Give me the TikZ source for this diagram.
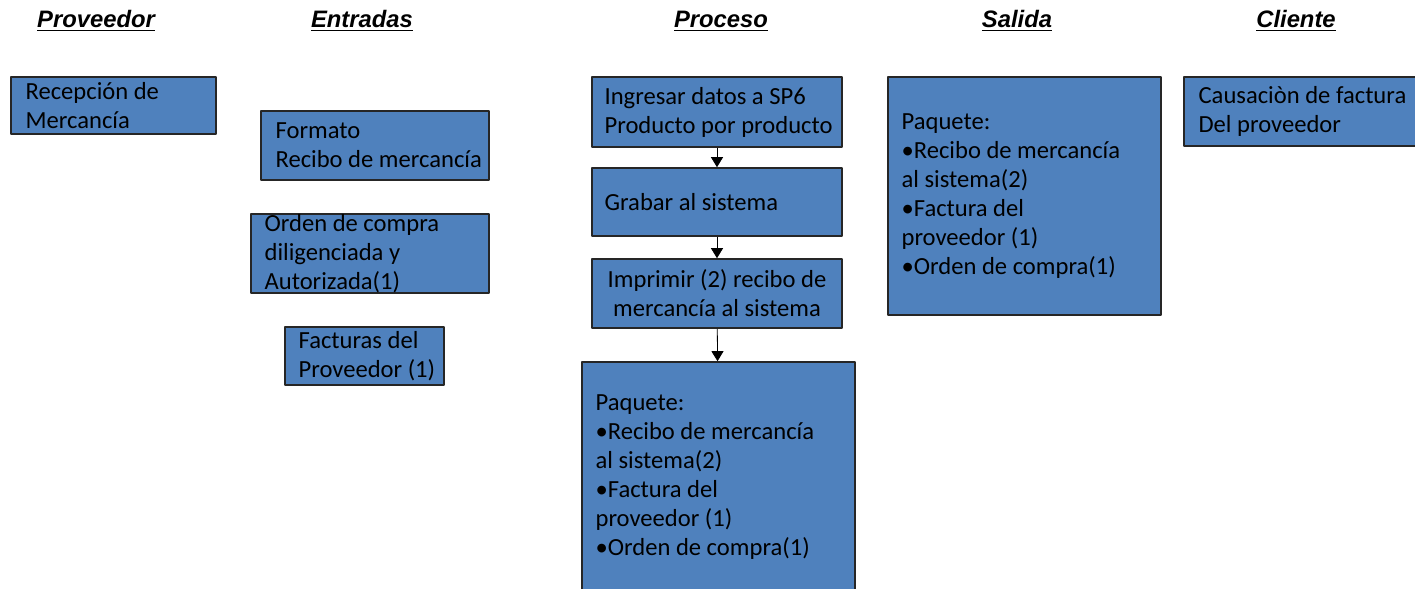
\documentclass[tikz,border=0pt]{standalone}
\usepackage{fontspec}
\setmainfont{Carlito}
\newfontfamily\arial{Liberation Sans}
\usetikzlibrary{arrows.meta}
\definecolor{azul}{RGB}{79,129,189}
\tikzset{
  caja/.style={draw=black!85, line width=0.8pt, fill=azul, inner sep=0pt},
  txt/.style={inner sep=0pt, align=left, anchor=west, font=\fontsize{12.3}{14.5}\selectfont},
  titulo/.style={inner sep=0pt, font=\arial\bfseries\itshape\fontsize{11.9}{13}\selectfont}
}
\begin{document}
\begin{tikzpicture}[x=0.5pt, y=-0.5pt, line join=round, >={Triangle[length=5pt,width=6pt]}]
\useasboundingbox (0,0) rectangle (1415,589);
% titulos
\node[titulo] (tprov) at (96,21) {\underline{Proveedor}};
\node[titulo] (tent) at (362,21) {\underline{Entradas}};
\node[titulo] (tproc) at (721,21) {\underline{Proceso}};
\node[titulo] (tsal) at (1017,21) {\underline{Salida}};
\node[titulo] (tcli) at (1296,21) {\underline{Cliente}};
% proveedor
\node[caja, minimum width=102.5pt, minimum height=28.5pt] (rec) at (113.5,105.5) {};
\node[txt] (rec-t) at ([xshift=7.5pt]rec.west) {Recepción de\\Mercancía};
% entradas
\node[caja, minimum width=114pt, minimum height=34.5pt] (fmt) at (375,145.5) {};
\node[txt] (fmt-t) at ([xshift=7.5pt]fmt.west) {Formato\\Recibo de mercancía};
\node[caja, minimum width=119pt, minimum height=39.5pt] (ord) at (370,253.5) {};
\node[txt] (ord-t) at ([xshift=7pt]ord.west) {Orden de compra\\diligenciada y\\Autorizada(1)};
\node[caja, minimum width=79.5pt, minimum height=29pt] (fac) at (364.5,356) {};
\node[txt] (fac-t) at ([xshift=7pt]fac.west) {Facturas del\\Proveedor (1)};
% proceso
\node[caja, minimum width=125pt, minimum height=35pt] (ing) at (717,112) {};
\node[txt] (ing-t) at ([xshift=6.5pt]ing.west) {Ingresar datos a SP6\\Producto por producto};
\node[caja, minimum width=125pt, minimum height=34pt] (grb) at (717,202) {};
\node[txt] (grb-t) at ([xshift=6.5pt]grb.west) {Grabar al sistema};
\node[caja, minimum width=125pt, minimum height=34.5pt] (imp) at (717,293.5) {};
\node[txt, align=center, anchor=center] (imp-t) at (imp) {Imprimir (2) recibo de\\mercancía al sistema};
\node[caja, minimum width=136.5pt, minimum height=115pt] (paq) at (718.5,477) {};
\node[txt] (paq-t) at ([xshift=7pt]paq.west) {Paquete:\\\textbullet Recibo de mercancía\\al sistema(2)\\\textbullet Factura del\\proveedor (1)\\\textbullet Orden de compra(1)};
\draw[->] (ing) -- (grb);
\draw[->] (grb) -- (imp);
\draw[->] (imp) -- (paq);
% salida
\node[caja, minimum width=136.5pt, minimum height=119pt] (sal) at (1024.5,196) {};
\node[txt] (sal-t) at ([xshift=7pt]sal.west) {Paquete:\\\textbullet Recibo de mercancía\\al sistema(2)\\\textbullet Factura del\\proveedor (1)\\\textbullet Orden de compra(1)};
% cliente
\node[caja, minimum width=118pt, minimum height=34.5pt] (cau) at (1302,111.5) {};
\node[txt] (cau-t) at ([xshift=7.5pt]cau.west) {Causaciòn de factura\\Del proveedor};
\end{tikzpicture}
\end{document}
